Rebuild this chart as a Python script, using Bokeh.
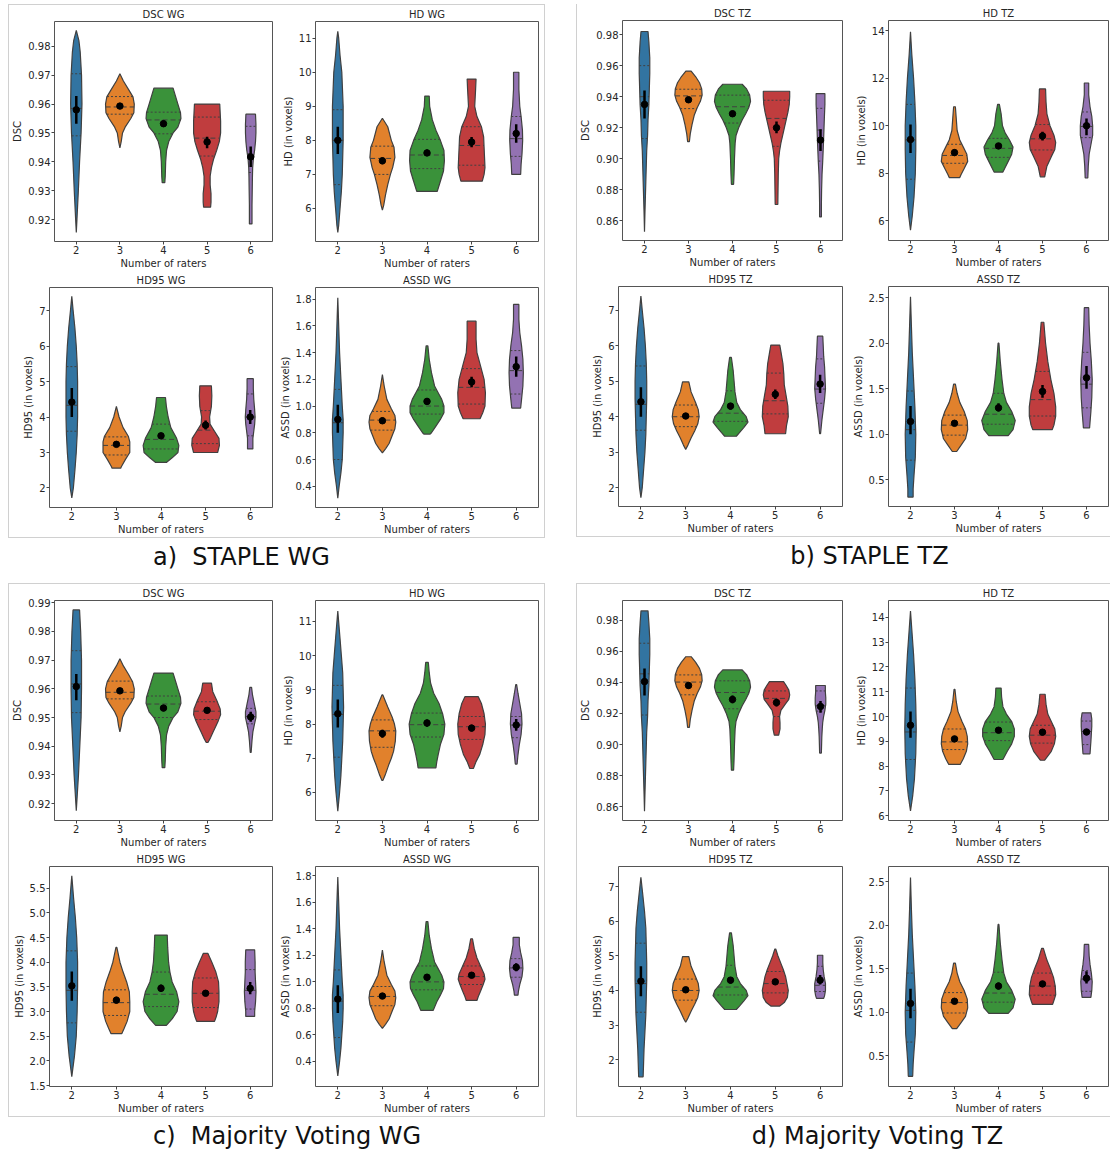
import numpy as np
from bokeh.plotting import figure
from bokeh.layouts import row, column
from bokeh.models import Div, Spacer, FixedTicker, PrintfTickFormatter, Range1d
from bokeh.embed import file_html
from bokeh.resources import INLINE

RATERS = [2, 3, 4, 5, 6]
COLORS = ["#3274a1", "#e1812c", "#3a923a", "#c03d3e", "#9372b2"]
X_LABEL = "Number of raters"

# ---------------- a) STAPLE WG ----------------
A_DSC_PROF = [
    [(0.9855, 0.0), (0.982, 0.06), (0.978, 0.09), (0.97, 0.12), (0.96, 0.13), (0.95, 0.11), (0.94, 0.075), (0.93, 0.047), (0.92, 0.015), (0.9155, 0.0)],
    [(0.9705, 0.0), (0.968, 0.08), (0.965, 0.2), (0.9625, 0.3), (0.96, 0.33), (0.957, 0.32), (0.955, 0.25), (0.952, 0.12), (0.95, 0.06), (0.947, 0.03), (0.9448, 0.0)],
    [(0.9655, 0.22), (0.963, 0.27), (0.96, 0.33), (0.957, 0.39), (0.955, 0.40), (0.952, 0.33), (0.95, 0.22), (0.947, 0.12), (0.944, 0.07), (0.94, 0.05), (0.935, 0.04), (0.9328, 0.03)],
    [(0.960, 0.29), (0.957, 0.30), (0.954, 0.31), (0.95, 0.31), (0.947, 0.28), (0.944, 0.22), (0.941, 0.15), (0.938, 0.10), (0.935, 0.07), (0.932, 0.07), (0.929, 0.09), (0.926, 0.09), (0.9243, 0.08)],
    [(0.9565, 0.11), (0.953, 0.12), (0.95, 0.12), (0.947, 0.11), (0.944, 0.09), (0.941, 0.06), (0.938, 0.045), (0.935, 0.04), (0.93, 0.035), (0.925, 0.03), (0.9185, 0.03)],
]
A_DSC_QUART = [(0.949, 0.9585, 0.9705), (0.9565, 0.959, 0.9626), (0.9497, 0.9545, 0.9572), (0.942, 0.9482, 0.9555), (0.9363, 0.9428, 0.9523)]
A_DSC_MEAN = [0.958, 0.9593, 0.9532, 0.9469, 0.9417]
A_DSC_CI = [(0.9532, 0.9628), (0.9588, 0.9600), (0.9522, 0.9543), (0.9447, 0.9487), (0.9382, 0.9453)]

A_HD_PROF = [
    [(11.2, 0.0), (11.0, 0.02), (10.5, 0.05), (10.0, 0.09), (9.0, 0.12), (8.0, 0.12), (7.0, 0.1), (6.5, 0.08), (6.0, 0.05), (5.5, 0.02), (5.3, 0.0)],
    [(8.65, 0.0), (8.4, 0.12), (8.0, 0.2), (7.8, 0.26), (7.5, 0.28), (7.2, 0.23), (7.0, 0.18), (6.7, 0.12), (6.4, 0.07), (6.1, 0.03), (5.95, 0.0)],
    [(9.3, 0.05), (9.0, 0.06), (8.6, 0.12), (8.3, 0.2), (8.0, 0.3), (7.7, 0.38), (7.4, 0.39), (7.1, 0.37), (6.8, 0.3), (6.5, 0.23)],
    [(9.8, 0.1), (9.5, 0.09), (9.0, 0.07), (8.7, 0.12), (8.4, 0.22), (8.1, 0.27), (7.8, 0.28), (7.5, 0.29), (7.2, 0.3), (7.0, 0.28), (6.8, 0.24)],
    [(10.0, 0.06), (9.5, 0.06), (9.0, 0.08), (8.7, 0.11), (8.3, 0.14), (8.0, 0.145), (7.6, 0.13), (7.3, 0.11), (7.0, 0.1)],
]
A_HD_QUART = [(6.7, 8.0, 8.9), (7.0, 7.47, 7.83), (7.17, 7.57, 8.03), (7.27, 7.85, 8.4), (7.53, 8.05, 8.7)]
A_HD_MEAN = [8.0, 7.4, 7.63, 7.95, 8.2]
A_HD_CI = [(7.6, 8.4), (7.3, 7.5), (7.55, 7.73), (7.8, 8.1), (7.93, 8.47)]

A_HD95_PROF = [
    [(7.4, 0.0), (7.0, 0.03), (6.5, 0.07), (6.0, 0.1), (5.5, 0.12), (5.0, 0.13), (4.5, 0.13), (4.0, 0.13), (3.5, 0.12), (3.0, 0.1), (2.5, 0.07), (2.0, 0.035), (1.72, 0.0)],
    [(4.3, 0.0), (4.0, 0.06), (3.7, 0.15), (3.45, 0.27), (3.3, 0.3), (3.0, 0.3), (2.8, 0.2), (2.6, 0.11), (2.56, 0.1)],
    [(4.55, 0.1), (4.3, 0.12), (4.0, 0.16), (3.7, 0.22), (3.4, 0.35), (3.2, 0.4), (3.0, 0.38), (2.85, 0.25), (2.72, 0.12)],
    [(4.88, 0.13), (4.6, 0.14), (4.3, 0.13), (4.0, 0.09), (3.8, 0.1), (3.6, 0.2), (3.4, 0.3), (3.2, 0.31), (3.0, 0.27)],
    [(5.08, 0.07), (4.8, 0.07), (4.5, 0.08), (4.2, 0.1), (4.0, 0.11), (3.8, 0.1), (3.6, 0.08), (3.4, 0.06), (3.2, 0.06), (3.1, 0.06)],
]
A_HD95_QUART = [(3.6, 4.33, 5.42), (2.93, 3.2, 3.44), (3.1, 3.37, 3.8), (3.25, 3.63, 4.18), (3.47, 4.0, 4.65)]
A_HD95_MEAN = [4.42, 3.23, 3.47, 3.77, 4.0]
A_HD95_CI = [(4.0, 4.82), (3.18, 3.3), (3.42, 3.54), (3.65, 3.9), (3.8, 4.2)]

A_ASSD_PROF = [
    [(1.81, 0.0), (1.6, 0.02), (1.4, 0.04), (1.2, 0.07), (1.0, 0.1), (0.9, 0.12), (0.8, 0.12), (0.7, 0.11), (0.6, 0.1), (0.5, 0.07), (0.4, 0.03), (0.31, 0.0)],
    [(1.235, 0.0), (1.15, 0.04), (1.05, 0.1), (0.98, 0.2), (0.93, 0.28), (0.88, 0.3), (0.83, 0.28), (0.78, 0.22), (0.72, 0.15), (0.68, 0.07), (0.65, 0.0)],
    [(1.45, 0.02), (1.35, 0.05), (1.25, 0.1), (1.15, 0.17), (1.1, 0.25), (1.05, 0.33), (1.0, 0.38), (0.95, 0.38), (0.9, 0.3), (0.85, 0.2), (0.8, 0.1), (0.79, 0.07)],
    [(1.635, 0.1), (1.5, 0.1), (1.4, 0.12), (1.3, 0.2), (1.2, 0.28), (1.1, 0.31), (1.0, 0.3), (0.95, 0.25), (0.905, 0.19)],
    [(1.76, 0.06), (1.65, 0.06), (1.55, 0.08), (1.45, 0.12), (1.35, 0.15), (1.25, 0.16), (1.15, 0.15), (1.05, 0.12), (0.985, 0.1)],
]
A_ASSD_QUART = [(0.6, 0.875, 1.125), (0.82, 0.895, 0.96), (0.94, 1.0, 1.12), (1.015, 1.14, 1.28), (1.09, 1.265, 1.415)]
A_ASSD_MEAN = [0.9, 0.89, 1.035, 1.18, 1.295]
A_ASSD_CI = [(0.8, 1.01), (0.87, 0.915), (1.01, 1.06), (1.14, 1.22), (1.22, 1.37)]

# ---------------- b) STAPLE TZ ----------------
B_DSC_PROF = [
    [(0.982, 0.08), (0.975, 0.1), (0.965, 0.12), (0.955, 0.12), (0.945, 0.11), (0.935, 0.1), (0.925, 0.08), (0.915, 0.07), (0.905, 0.05), (0.895, 0.04), (0.885, 0.03), (0.875, 0.02), (0.865, 0.01), (0.853, 0.0)],
    [(0.9565, 0.06), (0.953, 0.16), (0.949, 0.25), (0.945, 0.3), (0.941, 0.31), (0.937, 0.27), (0.933, 0.2), (0.928, 0.13), (0.922, 0.08), (0.916, 0.04), (0.911, 0.02)],
    [(0.948, 0.22), (0.945, 0.32), (0.941, 0.39), (0.937, 0.41), (0.933, 0.37), (0.929, 0.3), (0.925, 0.22), (0.92, 0.14), (0.915, 0.08), (0.91, 0.06), (0.9, 0.045), (0.89, 0.035), (0.8835, 0.025)],
    [(0.9435, 0.3), (0.94, 0.3), (0.935, 0.29), (0.93, 0.26), (0.925, 0.22), (0.92, 0.18), (0.915, 0.14), (0.91, 0.1), (0.905, 0.07), (0.9, 0.05), (0.89, 0.04), (0.88, 0.035), (0.8705, 0.03)],
    [(0.942, 0.1), (0.935, 0.1), (0.928, 0.09), (0.92, 0.08), (0.912, 0.07), (0.905, 0.06), (0.898, 0.05), (0.89, 0.035), (0.88, 0.025), (0.87, 0.02), (0.8625, 0.02)],
]
B_DSC_QUART = [(0.913, 0.94, 0.96), (0.9323, 0.9405, 0.9448), (0.923, 0.9335, 0.941), (0.908, 0.926, 0.9377), (0.8985, 0.9185, 0.9325)]
B_DSC_MEAN = [0.935, 0.938, 0.929, 0.92, 0.912]
B_DSC_CI = [(0.926, 0.944), (0.936, 0.940), (0.927, 0.931), (0.9165, 0.924), (0.905, 0.919)]

B_HD_PROF = [
    [(13.95, 0.0), (13.0, 0.03), (12.0, 0.07), (11.0, 0.1), (10.0, 0.12), (9.0, 0.12), (8.0, 0.11), (7.0, 0.08), (6.2, 0.04), (5.6, 0.0)],
    [(10.8, 0.02), (10.3, 0.04), (9.8, 0.06), (9.4, 0.12), (9.1, 0.2), (8.8, 0.28), (8.5, 0.3), (8.2, 0.22), (7.95, 0.15), (7.82, 0.12)],
    [(10.9, 0.02), (10.5, 0.06), (10.0, 0.09), (9.7, 0.15), (9.4, 0.25), (9.1, 0.33), (8.8, 0.3), (8.5, 0.22), (8.2, 0.14), (8.05, 0.1)],
    [(11.55, 0.07), (11.0, 0.08), (10.5, 0.1), (10.0, 0.17), (9.6, 0.26), (9.3, 0.3), (9.0, 0.28), (8.7, 0.2), (8.3, 0.1), (7.85, 0.05)],
    [(11.8, 0.05), (11.3, 0.05), (10.8, 0.08), (10.4, 0.12), (10.0, 0.14), (9.6, 0.14), (9.2, 0.1), (8.8, 0.06), (8.3, 0.04), (7.8, 0.03)],
]
B_HD_QUART = [(7.75, 9.4, 10.9), (8.42, 8.75, 9.22), (8.67, 9.05, 9.47), (8.98, 9.45, 10.05), (9.5, 9.97, 10.58)]
B_HD_MEAN = [9.42, 8.87, 9.15, 9.57, 10.0]
B_HD_CI = [(8.85, 10.05), (8.75, 9.0), (9.05, 9.25), (9.38, 9.75), (9.6, 10.3)]

B_HD95_PROF = [
    [(7.4, 0.0), (7.0, 0.03), (6.5, 0.07), (6.0, 0.1), (5.5, 0.12), (5.0, 0.13), (4.5, 0.13), (4.0, 0.12), (3.5, 0.11), (3.0, 0.09), (2.5, 0.06), (2.0, 0.03), (1.72, 0.0)],
    [(4.98, 0.07), (4.7, 0.12), (4.4, 0.22), (4.2, 0.28), (4.0, 0.3), (3.8, 0.27), (3.6, 0.2), (3.4, 0.12), (3.2, 0.05), (3.08, 0.0)],
    [(5.67, 0.02), (5.3, 0.06), (5.0, 0.08), (4.7, 0.1), (4.4, 0.14), (4.2, 0.22), (4.0, 0.35), (3.85, 0.39), (3.7, 0.3), (3.55, 0.2), (3.45, 0.13)],
    [(6.02, 0.1), (5.8, 0.13), (5.5, 0.17), (5.2, 0.19), (4.9, 0.2), (4.6, 0.24), (4.3, 0.28), (4.0, 0.29), (3.75, 0.25), (3.52, 0.23)],
    [(6.27, 0.06), (6.0, 0.07), (5.7, 0.08), (5.4, 0.1), (5.1, 0.11), (4.8, 0.12), (4.5, 0.1), (4.2, 0.07), (3.9, 0.04), (3.52, 0.01)],
]
B_HD95_QUART = [(3.62, 4.35, 5.43), (3.72, 4.0, 4.33), (3.87, 4.1, 4.73), (4.08, 4.45, 5.23), (4.38, 4.78, 5.63)]
B_HD95_MEAN = [4.42, 4.02, 4.3, 4.63, 4.92]
B_HD95_CI = [(4.0, 4.83), (3.96, 4.08), (4.2, 4.38), (4.5, 4.77), (4.67, 5.18)]

B_ASSD_PROF = [
    [(2.51, 0.0), (2.2, 0.02), (1.9, 0.04), (1.6, 0.07), (1.3, 0.1), (1.0, 0.12), (0.75, 0.11), (0.55, 0.08), (0.4, 0.06), (0.31, 0.06)],
    [(1.55, 0.02), (1.45, 0.06), (1.35, 0.12), (1.25, 0.22), (1.15, 0.29), (1.05, 0.3), (0.95, 0.25), (0.88, 0.15), (0.81, 0.05)],
    [(2.0, 0.01), (1.8, 0.04), (1.6, 0.08), (1.45, 0.12), (1.35, 0.18), (1.25, 0.3), (1.15, 0.38), (1.05, 0.33), (0.985, 0.22)],
    [(2.23, 0.03), (2.0, 0.07), (1.8, 0.12), (1.6, 0.19), (1.45, 0.26), (1.3, 0.3), (1.2, 0.3), (1.1, 0.26), (1.05, 0.22)],
    [(2.39, 0.05), (2.2, 0.06), (2.0, 0.08), (1.8, 0.11), (1.6, 0.13), (1.4, 0.12), (1.25, 0.1), (1.07, 0.07)],
]
B_ASSD_QUART = [(0.715, 1.05, 1.475), (0.99, 1.1, 1.21), (1.11, 1.22, 1.45), (1.2, 1.38, 1.69), (1.29, 1.55, 1.9)]
B_ASSD_MEAN = [1.14, 1.12, 1.29, 1.47, 1.62]
B_ASSD_CI = [(1.0, 1.31), (1.09, 1.15), (1.25, 1.34), (1.4, 1.54), (1.5, 1.75)]

# ---------------- c) Majority Voting WG ----------------
C_DSC_PROF = [
    [(0.9875, 0.075), (0.98, 0.1), (0.97, 0.12), (0.96, 0.12), (0.95, 0.11), (0.94, 0.08), (0.93, 0.05), (0.925, 0.03), (0.9175, 0.0)],
    [(0.9705, 0.0), (0.968, 0.08), (0.965, 0.2), (0.9625, 0.29), (0.96, 0.33), (0.957, 0.32), (0.955, 0.25), (0.952, 0.12), (0.95, 0.06), (0.947, 0.03), (0.945, 0.0)],
    [(0.9655, 0.22), (0.963, 0.27), (0.96, 0.33), (0.957, 0.39), (0.955, 0.40), (0.952, 0.33), (0.95, 0.22), (0.947, 0.12), (0.944, 0.07), (0.94, 0.05), (0.935, 0.04), (0.9325, 0.03)],
    [(0.962, 0.1), (0.959, 0.13), (0.956, 0.22), (0.953, 0.3), (0.951, 0.31), (0.949, 0.26), (0.947, 0.2), (0.945, 0.14), (0.943, 0.08), (0.9413, 0.02)],
    [(0.9605, 0.02), (0.958, 0.04), (0.955, 0.08), (0.952, 0.12), (0.95, 0.12), (0.948, 0.09), (0.945, 0.05), (0.942, 0.03), (0.9378, 0.01)],
]
C_DSC_QUART = [(0.9517, 0.9617, 0.9733), (0.9565, 0.9588, 0.9627), (0.95, 0.9547, 0.9575), (0.9493, 0.9522, 0.9555), (0.9478, 0.9503, 0.9532)]
C_DSC_MEAN = [0.9608, 0.9593, 0.9533, 0.9525, 0.9502]
C_DSC_CI = [(0.956, 0.9652), (0.9588, 0.96), (0.9522, 0.9543), (0.9518, 0.9532), (0.9485, 0.952)]

C_HD_PROF = [
    [(11.3, 0.0), (10.5, 0.05), (10.0, 0.08), (9.5, 0.11), (9.0, 0.12), (8.5, 0.13), (8.0, 0.12), (7.5, 0.11), (7.0, 0.09), (6.5, 0.07), (6.0, 0.04), (5.45, 0.0)],
    [(8.85, 0.01), (8.5, 0.12), (8.2, 0.22), (8.0, 0.27), (7.8, 0.3), (7.5, 0.29), (7.2, 0.25), (7.0, 0.2), (6.8, 0.14), (6.5, 0.06), (6.35, 0.01)],
    [(9.8, 0.03), (9.5, 0.05), (9.2, 0.08), (8.9, 0.15), (8.6, 0.27), (8.3, 0.35), (8.0, 0.4), (7.7, 0.38), (7.4, 0.3), (7.1, 0.25), (6.9, 0.22), (6.72, 0.2)],
    [(8.8, 0.15), (8.6, 0.22), (8.3, 0.28), (8.0, 0.31), (7.7, 0.3), (7.4, 0.25), (7.1, 0.18), (6.9, 0.1), (6.7, 0.04)],
    [(9.15, 0.01), (8.9, 0.04), (8.6, 0.08), (8.3, 0.12), (8.0, 0.13), (7.7, 0.11), (7.4, 0.07), (7.1, 0.04), (6.83, 0.02)],
]
C_HD_QUART = [(7.03, 8.28, 9.13), (7.32, 7.8, 8.12), (7.62, 7.98, 8.32), (7.55, 7.92, 8.22), (7.6, 7.97, 8.22)]
C_HD_MEAN = [8.3, 7.72, 8.03, 7.88, 7.97]
C_HD_CI = [(7.9, 8.72), (7.6, 7.83), (7.92, 8.13), (7.78, 7.98), (7.8, 8.15)]

C_HD95_PROF = [
    [(5.75, 0.0), (5.3, 0.04), (4.9, 0.08), (4.5, 0.11), (4.0, 0.13), (3.5, 0.13), (3.0, 0.12), (2.5, 0.1), (2.1, 0.06), (1.68, 0.0)],
    [(4.3, 0.01), (4.0, 0.08), (3.8, 0.15), (3.6, 0.23), (3.4, 0.29), (3.2, 0.3), (3.0, 0.3), (2.8, 0.24), (2.65, 0.17), (2.55, 0.12)],
    [(4.55, 0.14), (4.3, 0.15), (4.0, 0.17), (3.8, 0.2), (3.6, 0.25), (3.4, 0.35), (3.2, 0.4), (3.0, 0.36), (2.85, 0.25), (2.72, 0.12)],
    [(4.18, 0.05), (4.0, 0.14), (3.8, 0.23), (3.6, 0.29), (3.4, 0.3), (3.2, 0.3), (3.0, 0.27), (2.9, 0.24), (2.8, 0.2)],
    [(4.25, 0.1), (4.0, 0.11), (3.8, 0.11), (3.6, 0.12), (3.4, 0.13), (3.2, 0.12), (3.0, 0.1), (2.9, 0.1)],
]
C_HD95_QUART = [(2.77, 3.43, 4.23), (2.92, 3.18, 3.44), (3.1, 3.35, 3.8), (3.08, 3.37, 3.68), (3.05, 3.43, 3.85)]
C_HD95_MEAN = [3.52, 3.23, 3.47, 3.37, 3.47]
C_HD95_CI = [(3.22, 3.81), (3.17, 3.3), (3.4, 3.55), (3.32, 3.43), (3.35, 3.6)]

C_ASSD_PROF = [
    [(1.79, 0.0), (1.6, 0.02), (1.4, 0.04), (1.2, 0.07), (1.0, 0.1), (0.9, 0.12), (0.8, 0.12), (0.7, 0.11), (0.6, 0.09), (0.5, 0.07), (0.4, 0.04), (0.29, 0.0)],
    [(1.24, 0.0), (1.15, 0.04), (1.05, 0.1), (0.98, 0.2), (0.93, 0.28), (0.88, 0.3), (0.83, 0.28), (0.78, 0.22), (0.72, 0.15), (0.68, 0.07), (0.65, 0.0)],
    [(1.455, 0.02), (1.35, 0.05), (1.25, 0.1), (1.15, 0.17), (1.1, 0.25), (1.05, 0.33), (1.0, 0.38), (0.95, 0.37), (0.9, 0.3), (0.85, 0.22), (0.785, 0.14)],
    [(1.325, 0.02), (1.25, 0.06), (1.18, 0.12), (1.12, 0.2), (1.06, 0.28), (1.02, 0.3), (0.98, 0.26), (0.93, 0.2), (0.89, 0.15), (0.86, 0.12)],
    [(1.335, 0.07), (1.28, 0.07), (1.22, 0.1), (1.16, 0.14), (1.1, 0.15), (1.04, 0.13), (0.98, 0.08), (0.93, 0.05), (0.9, 0.04)],
]
C_ASSD_QUART = [(0.58, 0.855, 1.09), (0.82, 0.89, 0.965), (0.94, 1.0, 1.12), (0.98, 1.04, 1.12), (1.035, 1.105, 1.175)]
C_ASSD_MEAN = [0.87, 0.893, 1.035, 1.05, 1.11]
C_ASSD_CI = [(0.765, 0.975), (0.875, 0.91), (1.01, 1.06), (1.035, 1.07), (1.08, 1.14)]

# ---------------- d) Majority Voting TZ ----------------
D_DSC_PROF = [
    [(0.986, 0.08), (0.978, 0.1), (0.968, 0.12), (0.958, 0.12), (0.948, 0.11), (0.938, 0.1), (0.928, 0.08), (0.918, 0.07), (0.908, 0.05), (0.898, 0.04), (0.888, 0.03), (0.878, 0.02), (0.868, 0.01), (0.857, 0.0)],
    [(0.9565, 0.06), (0.953, 0.16), (0.949, 0.25), (0.945, 0.3), (0.941, 0.31), (0.937, 0.27), (0.933, 0.2), (0.928, 0.13), (0.922, 0.08), (0.916, 0.04), (0.911, 0.02)],
    [(0.948, 0.22), (0.945, 0.32), (0.941, 0.39), (0.937, 0.41), (0.933, 0.37), (0.929, 0.3), (0.925, 0.22), (0.92, 0.14), (0.915, 0.08), (0.91, 0.06), (0.9, 0.045), (0.89, 0.035), (0.8835, 0.025)],
    [(0.9405, 0.16), (0.938, 0.22), (0.935, 0.28), (0.932, 0.3), (0.929, 0.28), (0.926, 0.2), (0.922, 0.1), (0.918, 0.07), (0.914, 0.08), (0.91, 0.08), (0.906, 0.05)],
    [(0.938, 0.11), (0.934, 0.11), (0.93, 0.12), (0.926, 0.12), (0.922, 0.1), (0.918, 0.07), (0.914, 0.05), (0.91, 0.04), (0.905, 0.03), (0.9, 0.025), (0.8945, 0.02)],
]
D_DSC_QUART = [(0.919, 0.9455, 0.9652), (0.932, 0.9402, 0.9448), (0.923, 0.9335, 0.941), (0.918, 0.9297, 0.9345), (0.9215, 0.925, 0.9345)]
D_DSC_MEAN = [0.9405, 0.938, 0.929, 0.927, 0.9245]
D_DSC_CI = [(0.9315, 0.949), (0.936, 0.94), (0.9265, 0.9315), (0.9245, 0.9295), (0.9205, 0.928)]

D_HD_PROF = [
    [(14.25, 0.0), (13.5, 0.03), (12.5, 0.07), (11.5, 0.1), (10.5, 0.12), (9.5, 0.13), (8.5, 0.12), (7.5, 0.09), (6.8, 0.05), (6.2, 0.0)],
    [(11.1, 0.01), (10.6, 0.04), (10.2, 0.08), (9.8, 0.17), (9.5, 0.25), (9.2, 0.29), (8.9, 0.3), (8.6, 0.27), (8.3, 0.2), (8.07, 0.13)],
    [(11.15, 0.06), (10.8, 0.07), (10.4, 0.1), (10.1, 0.18), (9.8, 0.3), (9.5, 0.36), (9.2, 0.36), (8.9, 0.3), (8.6, 0.2), (8.27, 0.1)],
    [(10.9, 0.06), (10.5, 0.08), (10.1, 0.12), (9.8, 0.2), (9.5, 0.28), (9.2, 0.3), (8.9, 0.27), (8.6, 0.2), (8.24, 0.05)],
    [(10.15, 0.1), (9.9, 0.12), (9.6, 0.12), (9.3, 0.11), (9.0, 0.1), (8.75, 0.09), (8.5, 0.08)],
]
D_HD_QUART = [(8.27, 9.38, 11.15), (8.67, 8.98, 9.5), (9.03, 9.35, 9.78), (8.93, 9.25, 9.65), (8.87, 9.4, 9.82)]
D_HD_MEAN = [9.65, 9.1, 9.45, 9.37, 9.38]
D_HD_CI = [(9.15, 10.2), (9.0, 9.2), (9.35, 9.55), (9.25, 9.48), (9.25, 9.5)]

D_HD95_PROF = [
    [(7.28, 0.0), (6.8, 0.04), (6.3, 0.08), (5.8, 0.11), (5.3, 0.12), (4.8, 0.13), (4.3, 0.13), (3.8, 0.12), (3.3, 0.11), (2.8, 0.09), (2.3, 0.07), (1.9, 0.06), (1.5, 0.05)],
    [(4.98, 0.07), (4.7, 0.12), (4.4, 0.22), (4.2, 0.28), (4.0, 0.3), (3.8, 0.27), (3.6, 0.2), (3.4, 0.12), (3.2, 0.05), (3.08, 0.0)],
    [(5.67, 0.02), (5.3, 0.06), (5.0, 0.08), (4.7, 0.1), (4.4, 0.14), (4.2, 0.22), (4.0, 0.35), (3.85, 0.39), (3.7, 0.3), (3.55, 0.2), (3.45, 0.13)],
    [(5.2, 0.01), (5.0, 0.06), (4.8, 0.12), (4.6, 0.18), (4.4, 0.23), (4.2, 0.26), (4.0, 0.29), (3.8, 0.27), (3.65, 0.2), (3.55, 0.1)],
    [(5.02, 0.06), (4.8, 0.06), (4.6, 0.07), (4.4, 0.09), (4.2, 0.12), (4.0, 0.12), (3.85, 0.1), (3.77, 0.08)],
]
D_HD95_QUART = [(3.37, 4.2, 5.37), (3.72, 4.0, 4.33), (3.87, 4.1, 4.73), (3.93, 4.2, 4.55), (3.97, 4.15, 4.7)]
D_HD95_MEAN = [4.27, 4.02, 4.3, 4.25, 4.3]
D_HD95_CI = [(3.83, 4.7), (3.96, 4.08), (4.2, 4.38), (4.17, 4.33), (4.17, 4.45)]

D_ASSD_PROF = [
    [(2.55, 0.0), (2.2, 0.02), (1.9, 0.04), (1.6, 0.07), (1.3, 0.1), (1.0, 0.12), (0.75, 0.11), (0.55, 0.08), (0.4, 0.06), (0.26, 0.05)],
    [(1.565, 0.02), (1.45, 0.06), (1.35, 0.12), (1.25, 0.22), (1.15, 0.29), (1.05, 0.3), (0.95, 0.25), (0.88, 0.15), (0.81, 0.05)],
    [(2.01, 0.01), (1.8, 0.04), (1.6, 0.08), (1.45, 0.12), (1.35, 0.18), (1.25, 0.3), (1.15, 0.38), (1.05, 0.33), (0.985, 0.22)],
    [(1.735, 0.02), (1.6, 0.1), (1.5, 0.18), (1.4, 0.25), (1.3, 0.29), (1.2, 0.3), (1.12, 0.25), (1.09, 0.23)],
    [(1.78, 0.05), (1.65, 0.06), (1.55, 0.08), (1.45, 0.11), (1.35, 0.13), (1.25, 0.12), (1.17, 0.1)],
]
D_ASSD_QUART = [(0.655, 1.02, 1.45), (0.99, 1.11, 1.225), (1.115, 1.22, 1.46), (1.195, 1.3, 1.45), (1.24, 1.38, 1.48)]
D_ASSD_MEAN = [1.1, 1.125, 1.3, 1.325, 1.39]
D_ASSD_CI = [(0.93, 1.27), (1.1, 1.15), (1.26, 1.34), (1.3, 1.35), (1.33, 1.47)]

# axis ticks per subplot
TICKS_DSC_WG_A = [0.92, 0.93, 0.94, 0.95, 0.96, 0.97, 0.98]
TICKS_DSC_WG_C = [0.92, 0.93, 0.94, 0.95, 0.96, 0.97, 0.98, 0.99]
TICKS_HD_WG = [6, 7, 8, 9, 10, 11]
TICKS_HD95_A = [2, 3, 4, 5, 6, 7]
TICKS_HD95_C = [1.5, 2.0, 2.5, 3.0, 3.5, 4.0, 4.5, 5.0, 5.5]
TICKS_ASSD_WG = [0.4, 0.6, 0.8, 1.0, 1.2, 1.4, 1.6, 1.8]
TICKS_DSC_TZ = [0.86, 0.88, 0.90, 0.92, 0.94, 0.96, 0.98]
TICKS_HD_TZ_B = [6, 8, 10, 12, 14]
TICKS_HD_TZ_D = [6, 7, 8, 9, 10, 11, 12, 13, 14]
TICKS_HD95_TZ = [2, 3, 4, 5, 6, 7]
TICKS_ASSD_TZ = [0.5, 1.0, 1.5, 2.0, 2.5]

FONT = "DejaVu Sans"
FS = "10px"
TXT = "#262626"
EDGE = "#404040"
FIG_H = 266


def violin_fig(title, ylabel, prof, quart, mean, ci, ylim, ticks, fmt, width, bl, br):
    p = figure(width=width, height=FIG_H, x_range=Range1d(1.5, 6.5), y_range=Range1d(*ylim),
               output_backend="svg", toolbar_location=None, title=title,
               min_border_left=bl, min_border_right=br, min_border_top=15, min_border_bottom=30)
    p.title.align = "center"
    p.title.text_font_size = FS
    p.title.text_font_style = "normal"
    p.title.text_font = FONT
    p.title.text_color = TXT
    p.title.standoff = 3
    p.grid.visible = False
    p.outline_line_color = "#555555"
    p.outline_line_width = 1
    for ax in (p.xaxis[0], p.yaxis[0]):
        ax.axis_line_color = None
        ax.major_tick_line_color = "#444444"
        ax.major_tick_out = 3
        ax.major_tick_in = 0
        ax.minor_tick_line_color = None
        ax.major_label_text_font = FONT
        ax.major_label_text_font_size = FS
        ax.major_label_text_color = TXT
        ax.major_label_standoff = 1
        ax.axis_label_text_font = FONT
        ax.axis_label_text_font_size = FS
        ax.axis_label_text_font_style = "normal"
        ax.axis_label_text_color = TXT
    p.xaxis.axis_label_standoff = 1
    p.yaxis.axis_label_standoff = 2
    p.xaxis.ticker = FixedTicker(ticks=RATERS)
    p.xaxis.axis_label = X_LABEL
    p.yaxis.ticker = FixedTicker(ticks=ticks)
    p.yaxis.formatter = PrintfTickFormatter(format=fmt)
    p.yaxis.axis_label = ylabel

    for i, (x, pr) in enumerate(zip(RATERS, prof)):
        ys = [a for a, _ in pr]
        ws = [b for _, b in pr]
        xs = [x + w for w in ws] + [x - w for w in ws[::-1]]
        yy = ys + ys[::-1]
        p.patch(xs, yy, fill_color=COLORS[i], line_color=EDGE, line_width=1.2)
        ya, wa = ys[::-1], ws[::-1]
        for j, q in enumerate(quart[i]):
            hw = float(np.interp(q, ya, wa))
            p.segment(x0=x - hw, y0=q, x1=x + hw, y1=q, line_color=EDGE, line_width=1,
                      line_dash="5 3" if j == 1 else "2 2")
    p.segment(x0=RATERS, y0=[c[0] for c in ci], x1=RATERS, y1=[c[1] for c in ci],
              line_color="black", line_width=2.5)
    p.scatter(RATERS, mean, size=6.5, color="black")
    return p


def title_div(text, width, height, style):
    html = ('<div style="width:%dpx;box-sizing:border-box;font-family:\'DejaVu Sans\';'
            'font-size:24px;color:#111111;white-space:pre;line-height:30px;padding-top:4px;%s">%s</div>'
            % (width, style, text))
    return Div(text=html, width=width, height=height, margin=(0, 0, 0, 0))


def panel(specs, widths, bls, brs, border, title, title_h, title_style):
    figs = [violin_fig(*s, w, bl, br) for s, w, bl, br in zip(specs, widths, bls, brs)]
    grid = column(row(figs[0], figs[1]), row(figs[2], figs[3]), styles=border)
    return column(grid, title_div(title, sum(widths[:2]) + 2, title_h, title_style))


SPEC_A = [
    ("DSC WG", "DSC", A_DSC_PROF, A_DSC_QUART, A_DSC_MEAN, A_DSC_CI, (0.9124, 0.9886), TICKS_DSC_WG_A, "%.2f"),
    ("HD WG", "HD (in voxels)", A_HD_PROF, A_HD_QUART, A_HD_MEAN, A_HD_CI, (5.03, 11.49), TICKS_HD_WG, "%d"),
    ("HD95 WG", "HD95 (in voxels)", A_HD95_PROF, A_HD95_QUART, A_HD95_MEAN, A_HD95_CI, (1.45, 7.65), TICKS_HD95_A, "%d"),
    ("ASSD WG", "ASSD (in voxels)", A_ASSD_PROF, A_ASSD_QUART, A_ASSD_MEAN, A_ASSD_CI, (0.241, 1.887), TICKS_ASSD_WG, "%.1f"),
]
SPEC_B = [
    ("DSC TZ", "DSC", B_DSC_PROF, B_DSC_QUART, B_DSC_MEAN, B_DSC_CI, (0.8473, 0.9891), TICKS_DSC_TZ, "%.2f"),
    ("HD TZ", "HD (in voxels)", B_HD_PROF, B_HD_QUART, B_HD_MEAN, B_HD_CI, (5.17, 14.43), TICKS_HD_TZ_B, "%d"),
    ("HD95 TZ", "HD95 (in voxels)", B_HD95_PROF, B_HD95_QUART, B_HD95_MEAN, B_HD95_CI, (1.47, 7.67), TICKS_HD95_TZ, "%d"),
    ("ASSD TZ", "ASSD (in voxels)", B_ASSD_PROF, B_ASSD_QUART, B_ASSD_MEAN, B_ASSD_CI, (0.206, 2.623), TICKS_ASSD_TZ, "%.1f"),
]
SPEC_C = [
    ("DSC WG", "DSC", C_DSC_PROF, C_DSC_QUART, C_DSC_MEAN, C_DSC_CI, (0.9141, 0.9908), TICKS_DSC_WG_C, "%.2f"),
    ("HD WG", "HD (in voxels)", C_HD_PROF, C_HD_QUART, C_HD_MEAN, C_HD_CI, (5.18, 11.61), TICKS_HD_WG, "%d"),
    ("HD95 WG", "HD95 (in voxels)", C_HD95_PROF, C_HD95_QUART, C_HD95_MEAN, C_HD95_CI, (1.48, 5.94), TICKS_HD95_C, "%.1f"),
    ("ASSD WG", "ASSD (in voxels)", C_ASSD_PROF, C_ASSD_QUART, C_ASSD_MEAN, C_ASSD_CI, (0.211, 1.87), TICKS_ASSD_WG, "%.1f"),
]
SPEC_D = [
    ("DSC TZ", "DSC", D_DSC_PROF, D_DSC_QUART, D_DSC_MEAN, D_DSC_CI, (0.8511, 0.9927), TICKS_DSC_TZ, "%.2f"),
    ("HD TZ", "HD (in voxels)", D_HD_PROF, D_HD_QUART, D_HD_MEAN, D_HD_CI, (5.81, 14.68), TICKS_HD_TZ_D, "%d"),
    ("HD95 TZ", "HD95 (in voxels)", D_HD95_PROF, D_HD95_QUART, D_HD95_MEAN, D_HD95_CI, (1.22, 7.59), TICKS_HD95_TZ, "%d"),
    ("ASSD TZ", "ASSD (in voxels)", D_ASSD_PROF, D_ASSD_QUART, D_ASSD_MEAN, D_ASSD_CI, (0.143, 2.678), TICKS_ASSD_TZ, "%.1f"),
]

W_LEFT = [266, 269, 266, 269]
BL_LEFT = [40, 40, 40, 40]
BR_LEFT = [3, 6, 3, 6]
W_RIGHT = [269, 264, 269, 264]
BL_RIGHT = [41, 42, 41, 42]
BR_RIGHT = [4, 2, 4, 2]

BORDER_FULL = {"border": "1px solid #d0d0d0"}
BORDER_B = {"border-left": "1px solid #d0d0d0", "border-bottom": "1px solid #d0d0d0"}
BORDER_D = {"border-left": "1px solid #d0d0d0", "border-top": "1px solid #d0d0d0",
            "border-bottom": "1px solid #d0d0d0"}

pa = panel(SPEC_A, W_LEFT, BL_LEFT, BR_LEFT, BORDER_FULL, "a)  STAPLE WG", 45, "padding-left:145px")
pb = panel(SPEC_B, W_RIGHT, BL_RIGHT, BR_RIGHT, BORDER_B, "b) STAPLE TZ", 45,
           "text-align:center;padding-left:52px")
pc = panel(SPEC_C, W_LEFT, BL_LEFT, BR_LEFT, BORDER_FULL, "c)  Majority Voting WG", 34, "padding-left:145px")
pd = panel(SPEC_D, W_RIGHT, BL_RIGHT, BR_RIGHT, BORDER_D, "d) Majority Voting TZ", 34,
           "text-align:center;padding-left:68px")

layout = column(
    Spacer(height=4),
    row(Spacer(width=8), pa, Spacer(width=31), pb),
    row(Spacer(width=8), pc, Spacer(width=31), pd),
)

open("out.html", "w").write(file_html(layout, INLINE))
